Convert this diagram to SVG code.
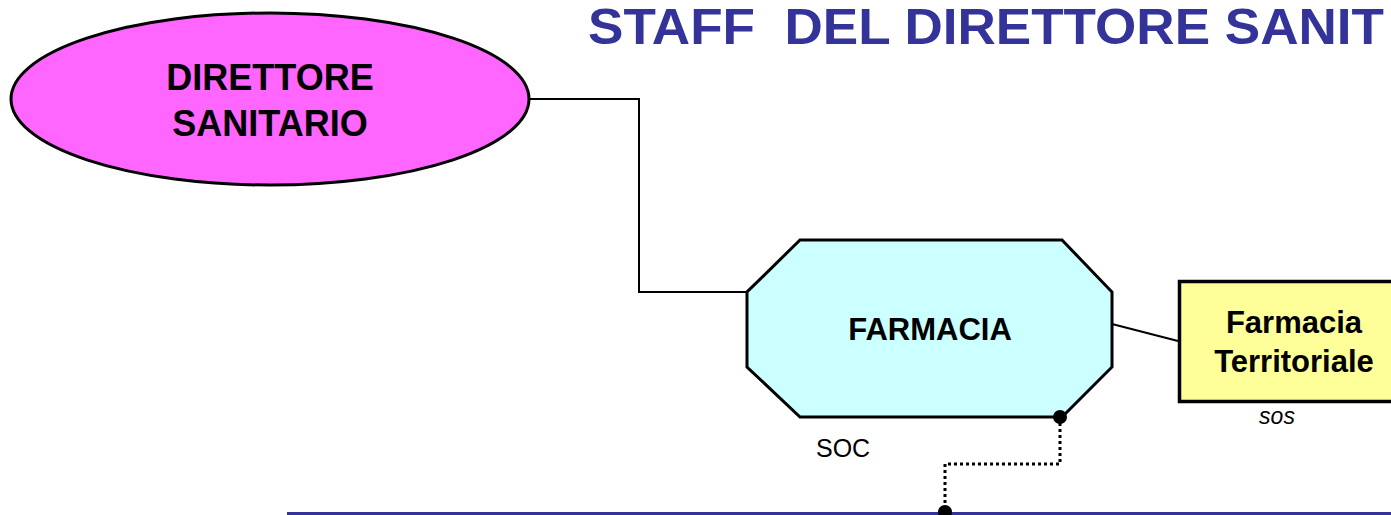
<svg xmlns="http://www.w3.org/2000/svg" width="1391" height="515" viewBox="0 0 1391 515">
<style>
.b{font-family:"Liberation Sans",Arial,sans-serif;font-weight:bold;text-anchor:middle;fill:#000}
.r{font-family:"Liberation Sans",Arial,sans-serif;fill:#000}
.c{fill:none;stroke:#000;stroke-width:2}
.d{fill:none;stroke:#000;stroke-width:3;stroke-dasharray:3 3}
</style>
<rect width="1391" height="515" fill="#fff"/>
<text x="588" y="44" font-family="Liberation Sans,Arial,sans-serif" font-weight="bold" font-size="50" fill="#333399" xml:space="preserve" textLength="796" lengthAdjust="spacingAndGlyphs">STAFF  DEL DIRETTORE SANIT</text>
<g id="direttore">
<ellipse cx="270" cy="99" rx="259" ry="86" fill="#FF66FF" stroke="#000" stroke-width="3"/>
<text class="b" x="270" y="90" font-size="36">DIRETTORE</text>
<text class="b" x="270" y="136" font-size="36">SANITARIO</text>
</g>
<g id="farmacia">
<polygon points="800,240 1062,240 1112,292 1112,367 1062,417 800,417 747,367 747,292" fill="#CCFFFF" stroke="#000" stroke-width="3"/>
<text class="b" x="930" y="340" font-size="31">FARMACIA</text>
<text class="r" x="816" y="457" font-size="25">SOC</text>
</g>
<g id="territoriale">
<rect x="1179.5" y="281.5" width="240" height="120" fill="#FFFF99" stroke="#000" stroke-width="3.5"/>
<text class="b" x="1294" y="333" font-size="31">Farmacia</text>
<text class="b" x="1294" y="372" font-size="31">Territoriale</text>
<text class="r" x="1277" y="424" font-size="23" font-style="italic" text-anchor="middle">sos</text>
</g>
<g id="staff-box">
<rect x="288.5" y="513.5" width="1200" height="100" fill="#fff" stroke="#333399" stroke-width="3"/>
</g>
<g id="connectors">
<polyline class="c" points="530,99 639,99 639,292 747,292"/>
<line class="c" x1="1112" y1="324" x2="1178" y2="341"/>
<polyline class="d" points="1060,417 1060,464 945,464 945,512"/>
<circle cx="1060" cy="417" r="7" fill="#000"/>
<circle cx="945" cy="512" r="7" fill="#000"/>
</g>
</svg>
